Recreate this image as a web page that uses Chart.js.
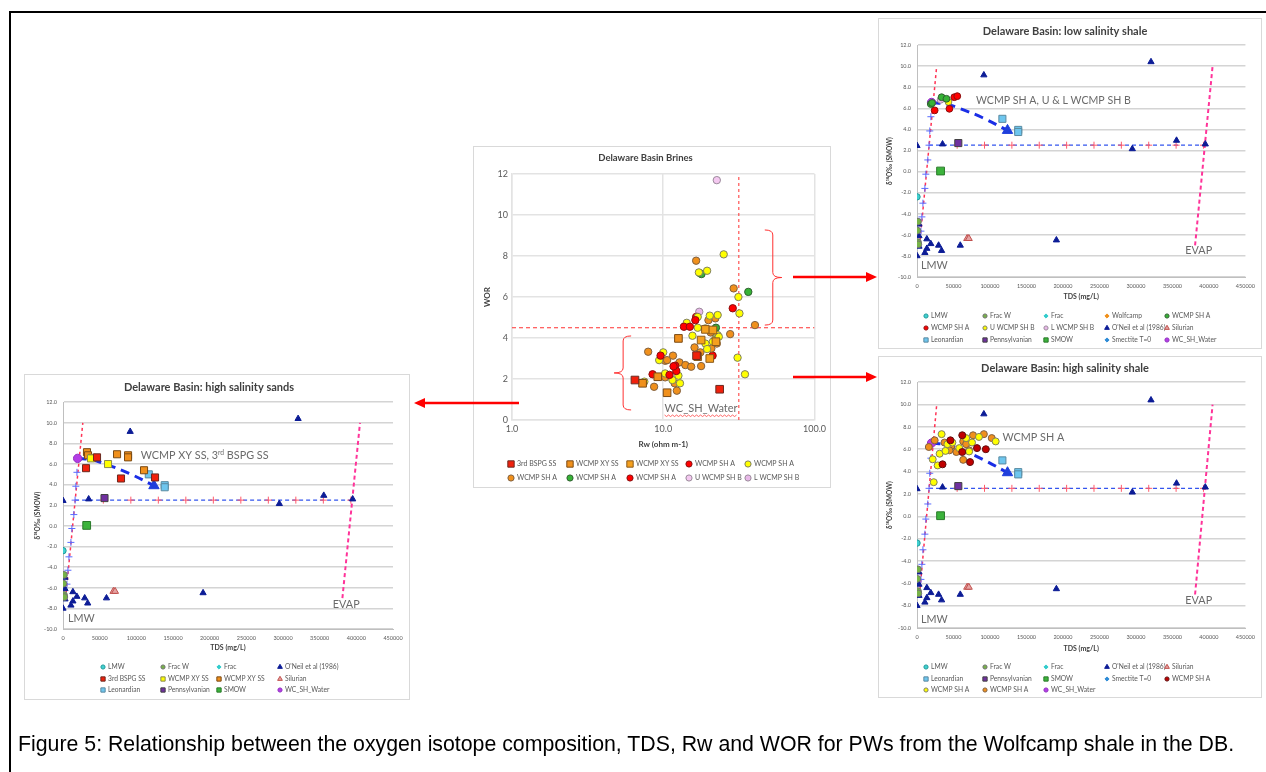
<!DOCTYPE html>
<html>
<head>
<meta charset="utf-8">
<script src="https://cdn.jsdelivr.net/npm/chart.js@4.4.0/dist/chart.umd.min.js"></script>
<style>
  body { margin: 0; width: 1266px; height: 772px; overflow: hidden; background: #fff; }
  .frame { position: absolute; left: 9px; top: 11px; width: 1400px; height: 900px; border: 2px solid #000; }
  .box { position: absolute; border: 1px solid #d9d9d9; background: #fff; }
  .box canvas { display: block; }
  #arrows { position: absolute; left: 0; top: 0; pointer-events: none; }
  .caption { position: absolute; left: 18px; top: 732px; font: 21.3px "Liberation Sans", Arial, sans-serif; color: #000; white-space: nowrap; }
</style>
</head>
<body>
<div class="frame"></div>
<div class="box" style="left:473px;top:146px"><canvas id="cBrines" width="356" height="340"></canvas></div>
<div class="box" style="left:878px;top:18px"><canvas id="cLowShale" width="382" height="329"></canvas></div>
<div class="box" style="left:878px;top:356px"><canvas id="cHighShale" width="382" height="340"></canvas></div>
<div class="box" style="left:24px;top:374px"><canvas id="cHighSands" width="384" height="324"></canvas></div>
<canvas id="arrows" width="1266" height="772"></canvas>
<div class="caption">Figure 5: Relationship between the oxygen isotope composition, TDS, Rw and WOR for PWs from the Wolfcamp shale in the DB.</div>

<script>
// ---------- Delaware Basin Brines: Rw (ohm m-1) vs WOR ----------
const rwTicks = [1, 10, 100];
const brBspgSS  = [[6.5,1.95],[16.6,3.14],[23.6,1.5]];
const brXySS1   = [[7.3,1.79],[9.2,2.11],[10.6,1.33],[12.6,3.98]];
const brXySS2   = [[16.9,3.09],[17.8,3.9],[19.0,4.42],[20.3,3.0],[22.3,3.82],[21.3,4.39]];
const brShARed1 = [[8.5,2.23],[9.6,3.14],[11.0,2.2],[12.0,2.65],[12.2,2.39],[11.7,2.62],[13.7,4.55],[15.0,4.55],[16.3,4.87]];
const brShAYel  = [[7.5,1.87],[9.4,2.92],[10.0,3.3],[10.3,2.27],[11.5,1.95],[12.6,2.16],[12.9,1.79],[14.3,4.74],[15.6,4.11],
                   [16.9,4.5],[16.9,5.03],[17.2,7.2],[19.5,7.28],[19.0,4.47],[19.0,3.73],[19.5,3.46],[20.3,5.09],[21.9,3.9],
                   [22.9,5.12],[22.9,4.14],[23.3,4.06],[25.1,8.08],[31.4,6.0],[31.9,5.2],[31.0,3.04],[34.7,2.23],[21.3,3.82]];
const brShAOra  = [[7.95,3.33],[8.7,1.62],[10.3,2.89],[10.6,2.92],[11.6,3.14],[10.3,2.08],[11.9,1.79],[12.3,1.43],[12.8,2.81],
                   [14.0,2.68],[15.3,2.6],[16.1,3.54],[17.6,3.3],[17.8,2.63],[16.5,7.77],[19.9,4.87],[20.6,4.27],[20.8,3.49],
                   [22.1,4.96],[22.2,3.95],[27.7,4.19],[29.2,6.42],[40.4,4.63],[22.6,3.73]];
const brShAGrn  = [[17.6,7.15],[17.9,7.12],[22.3,4.5],[36.5,6.25]];
const brShARed2 = [[16.5,5.03],[21.2,3.14],[28.8,5.45]];
const brUShB    = [[22.6,11.7]];
const brLShB    = [[17.3,5.28]];
const brWorCut  = [[1,4.5],[100,4.5]];
const brRwCut   = [[31.6,0],[31.6,12]];

// ---------- d18O vs TDS (mg/L), shared by the three isotope charts ----------
const tdsMax = 450000, tdsStep = 50000;
const oneil       = [[0,2.45],[35000,2.6],[91600,9.15],[320600,10.4],[295000,2.15],[355600,2.95],[395000,2.6],[0,-8.0],
                     [2700,-5.0],[2700,-6.1],[2700,-7.1],[10800,-7.7],[13500,-6.4],[13500,-7.3],[18900,-6.85],[29600,-7.0],
                     [33700,-7.5],[59300,-7.0],[191000,-6.5]];
const fracW       = [[1300,-4.75],[500,-5.6],[1300,-6.7],[1800,-6.9]];
const lmw         = [[0,-2.4]];
const silurian    = [[68700,-6.35],[71000,-6.35]];
const leonardian  = [[117000,5.0],[138700,3.95],[138700,3.75]];
const pennsylv    = [[56600,2.7]];
const smow        = [[32300,0.05]];
const wcShWater   = [[20000,6.55]];
const endMember   = [[124000,3.9]];
const mwlCrosses  = [[19000,5.2],[17500,3.85],[16500,2.5],[14800,1.1],[12100,-0.25],[10800,-1.6],[8100,-3.0],[6700,-4.3],[5400,-5.65]];
const evpCrosses  = [[55000,2.5],[92500,2.5],[130000,2.5],[167500,2.5],[205000,2.5],[242500,2.5],[280000,2.5],[317500,2.5],[355000,2.5],[392500,2.5]];
const mwlLine     = [[3500,-7],[27000,10]];
const evapLine    = [[381000,-7],[405000,10]];
const flatLine    = [[16500,2.5],[395000,2.5]];
const mixCurve    = [[20000,6.55],[40000,6.4],[60000,5.95],[90000,5.1],[124000,3.9]];

// low salinity shale
const lsShAGrn = [[18900,6.4],[20600,6.5],[33700,7.05],[40400,6.9]];
const lsShARed = [[24200,5.8],[44400,5.95],[51100,7.05],[55200,7.15]];
const lsUShB   = [[43100,6.6]];
const lsLShB   = [[32300,6.8]];

// high salinity shale
const hsShARed = [[35000,4.65],[45800,6.8],[62000,7.25],[62000,5.75],[72700,4.85],[82200,6.1],[94300,6.0]];
const hsShAYel = [[33700,7.35],[21500,5.1],[22900,3.05],[28300,4.55],[31000,5.6],[39000,5.85],[41700,6.45],[48500,6.6],
                  [57900,6.1],[67300,7.0],[75400,6.6],[84900,7.1],[107800,6.7],[71400,5.8]];
const hsShAOra = [[16200,6.2],[24200,6.8],[37700,6.6],[47100,6.3],[53900,5.75],[63300,6.7],[63300,5.05],[76800,7.25],
                  [91600,7.35],[102400,7.0],[67300,6.45],[71400,5.9],[44400,5.9]];

// high salinity sands
const ssBspg   = [[31400,5.6],[46400,6.65],[79100,4.6],[125500,4.7]];
const ssXyYel  = [[61400,6.0],[38200,6.55]];
const ssXyOra  = [[32700,7.15],[34100,6.85],[39600,6.6],[73700,6.95],[88700,6.85],[88700,6.65],[110500,5.4]];

// ---------- styles ----------
const look = {
  bspg:     ['3rd BSPG SS', 'rect', '#f0200c', '#6b2a20'],
  xy1:      ['WCMP XY SS', 'rect', '#f0901c', '#7a4a14'],
  xy2:      ['WCMP XY SS', 'rect', '#f5a01e', '#8a5a1c'],
  xyYel:    ['WCMP XY SS', 'rect', '#ffff00', '#8a8a50'],
  xyOra:    ['WCMP XY SS', 'rect', '#f0901c', '#7a4a14'],
  shRed:    ['WCMP SH A', 'circle', '#ff0000', '#8a1010'],
  shDkRed:  ['WCMP SH A', 'circle', '#c00000', '#601010'],
  shYel:    ['WCMP SH A', 'circle', '#ffff00', '#808060'],
  shOra:    ['WCMP SH A', 'circle', '#f0901c', '#806040'],
  shGrn:    ['WCMP SH A', 'circle', '#36b336', '#306030'],
  uShB:     ['U WCMP SH B', 'circle', '#f4c8f0', '#9a8a9a'],
  lShB:     ['L WCMP SH B', 'circle', '#e8b8e8', '#9a8a9a'],
  uShBYel:  ['U WCMP SH B', 'circle', '#ffff00', '#808060'],
  lmw:      ['LMW', 'circle', '#40d0d0', '#1f9a9a'],
  fracW:    ['Frac W', 'circle', '#77b347', '#707070'],
  frac:     ['Frac', 'rectRot', '#33cccc', '#33cccc'],
  wolfcamp: ['Wolfcamp', 'rectRot', '#f0901c', '#f0901c'],
  oneil:    ["O'Neil et al (1986)", 'triangle', '#0c1c96', '#0c1c96'],
  silurian: ['Silurian', 'triangle', '#e6a3a3', '#c0504d'],
  leon:     ['Leonardian', 'rect', '#6ec6ee', '#5a8aa0'],
  penn:     ['Pennsylvanian', 'rect', '#7030a0', '#404040'],
  smow:     ['SMOW', 'rect', '#3cb33c', '#2a7a2a'],
  smectite: ['Smectite T=0', 'rectRot', '#2e8bd6', '#2e8bd6'],
  wcsh:     ['WC_SH_Water', 'circle', '#b43ce6', '#9030c0']
};

function pts(a) { return a.map(p => ({ x: p[0], y: p[1] })); }

function marks(key, data, r) {
  const s = look[key];
  return {
    label: s[0], data: pts(data), pointStyle: s[1],
    backgroundColor: s[2], borderColor: s[3],
    pointBackgroundColor: s[2], pointBorderColor: s[3],
    pointRadius: r, pointBorderWidth: 1, showLine: false
  };
}

function line(data, color, width, dash, tension) {
  return {
    label: '', data: pts(data), showLine: true, borderColor: color, borderWidth: width,
    borderDash: dash, pointRadius: 0, tension: tension || 0, order: 5
  };
}

function crosses(data, color) {
  return {
    label: '', data: pts(data), pointStyle: 'cross', borderColor: color, pointBorderColor: color,
    pointRadius: 3.5, pointBorderWidth: 1, showLine: false, order: 4
  };
}

// legend in fixed columns like the Excel one
const excelLegend = {
  id: 'excelLegend',
  afterDraw(chart, args, o) {
    const ctx = chart.ctx;
    const items = chart.data.datasets.filter(d => d.label);
    ctx.save();
    ctx.textBaseline = 'middle';
    ctx.textAlign = 'left';
    items.forEach((d, i) => {
      const x = o.cols[i % o.cols.length];
      const y = o.rows[Math.floor(i / o.cols.length)];
      ctx.fillStyle = d.backgroundColor;
      ctx.strokeStyle = d.borderColor;
      ctx.lineWidth = 1;
      const r = d.pointStyle === 'rect' ? o.r * 1.45 : d.pointStyle === 'triangle' ? o.r * 1.3 : o.r;
      Chart.helpers.drawPoint(ctx, { pointStyle: d.pointStyle, radius: r, borderWidth: 1, rotation: 0 }, x, y);
      ctx.font = o.size + 'px Lato, sans-serif';
      ctx.fillStyle = '#595959';
      ctx.fillText(d.label, x + o.gap, y);
    });
    ctx.restore();
  }
};

// text labels, braces and the spell-check squiggle
const notes = {
  id: 'notes',
  afterDatasetsDraw(chart, args, o) {
    const { ctx, scales } = chart;
    ctx.save();
    (o.items || []).forEach(n => {
      let px = scales.x.getPixelForValue(n.x);
      const py = scales.y.getPixelForValue(n.y);
      const x0 = px;
      ctx.fillStyle = '#6a6a6a';
      ctx.textBaseline = 'middle';
      ctx.textAlign = 'left';
      n.parts.forEach(p => {
        ctx.font = (p.sup ? n.size * 0.62 : n.size) + 'px Lato, sans-serif';
        ctx.fillText(p.t, px, p.sup ? py - n.size * 0.28 : py);
        px += ctx.measureText(p.t).width;
      });
      if (n.squiggle) {
        ctx.strokeStyle = '#ff4040';
        ctx.lineWidth = 0.8;
        ctx.beginPath();
        const yy = py + n.size * 0.6;
        for (let x = x0, k = 0; x <= px; x += 2, k++) {
          const y = yy + (k % 2 ? 1 : -0.5);
          if (k === 0) ctx.moveTo(x, y); else ctx.lineTo(x, y);
        }
        ctx.stroke();
      }
    });
    (o.braces || []).forEach(b => {
      const xv = scales.x.getPixelForValue(b.x);
      const yt = scales.y.getPixelForValue(b.y1);
      const yb = scales.y.getPixelForValue(b.y0);
      const ym = (yt + yb) / 2;
      const d = b.dir;
      ctx.strokeStyle = '#ff3030';
      ctx.lineWidth = 1;
      ctx.beginPath();
      ctx.moveTo(xv - 8 * d, yt);
      ctx.quadraticCurveTo(xv, yt, xv, yt + 5);
      ctx.lineTo(xv, ym - 5);
      ctx.quadraticCurveTo(xv, ym, xv + 9 * d, ym);
      ctx.quadraticCurveTo(xv, ym, xv, ym + 5);
      ctx.lineTo(xv, yb - 5);
      ctx.quadraticCurveTo(xv, yb, xv - 8 * d, yb);
      ctx.stroke();
    });
    ctx.restore();
  }
};

const titleFont = size => ({ family: 'Lato', size: size, weight: 'bold' });

// ---------- chart 1: brines ----------
new Chart(document.getElementById('cBrines'), {
  type: 'scatter',
  data: {
    datasets: [
      marks('bspg', brBspgSS, 5.4),
      marks('xy1', brXySS1, 5.4),
      marks('xy2', brXySS2, 5.4),
      marks('shRed', brShARed1, 3.7),
      marks('shYel', brShAYel, 3.7),
      marks('shOra', brShAOra, 3.7),
      marks('shGrn', brShAGrn, 3.7),
      marks('shRed', brShARed2, 3.7),
      marks('uShB', brUShB, 3.7),
      marks('lShB', brLShB, 3.7),
      line(brWorCut, '#ff3030', 1, [4, 3]),
      line(brRwCut, '#ff3030', 1, [3, 3])
    ]
  },
  options: {
    responsive: false,
    animation: false,
    events: [],
    layout: { padding: { left: 0, right: 13, top: 0, bottom: 37 } },
    scales: {
      x: {
        type: 'logarithmic', min: 1, max: 100,
        afterBuildTicks(s) { s.ticks = rwTicks.map(v => ({ value: v, major: true })); },
        afterFit(s) { s.height = 30; },
        ticks: { callback: v => Number(v).toFixed(1), color: '#595959', font: { family: 'Lato', size: 9 }, padding: 4, maxRotation: 0 },
        grid: { color: '#e3e3e3', lineWidth: 1.5, drawTicks: false },
        border: { color: '#e3e3e3', width: 1.5 },
        title: { display: true, text: 'Rw (ohm m-1)', color: '#404040', font: titleFont(8), padding: { top: 0, bottom: 1.2 } }
      },
      y: {
        min: 0, max: 12,
        afterFit(s) { s.width = 38; },
        ticks: { stepSize: 2, color: '#595959', font: { family: 'Lato', size: 9 }, padding: 4 },
        grid: { color: '#e3e3e3', lineWidth: 1.5, drawTicks: false },
        border: { color: '#e3e3e3', width: 1.5 },
        title: { display: true, text: 'WOR', color: '#404040', font: titleFont(8), padding: { top: 8.2, bottom: 0 } }
      }
    },
    plugins: {
      legend: { display: false },
      tooltip: { enabled: false },
      title: { display: true, text: 'Delaware Basin Brines', color: '#404040', font: titleFont(9.5), padding: { top: 5.3, bottom: 10.3 } },
      excelLegend: { cols: [37, 96, 156, 215, 274], rows: [317, 331], r: 3.1, gap: 6, size: 7 },
      notes: {
        items: [{ x: 10.2, y: 0.54, size: 11, squiggle: true, parts: [{ t: 'WC_SH_Water' }] }],
        braces: [{ x: 53, y0: 4.63, y1: 9.27, dir: 1 }, { x: 5.43, y0: 0.49, y1: 4.10, dir: -1 }]
      }
    }
  },
  plugins: [excelLegend, notes]
});

// ---------- isotope charts ----------
function commonIsoSets() {
  const em = marks('oneil', endMember, 6);
  Object.assign(em, { label: '', backgroundColor: '#1f3fdc', borderColor: '#1f3fdc', pointBackgroundColor: '#1f3fdc', pointBorderColor: '#1f3fdc' });
  return [
    em,
    crosses(mwlCrosses, '#5a6cff'),
    crosses(evpCrosses, '#ff5a6a'),
    line(mixCurve, '#1a2ee6', 3, [9, 6], 0.35),
    line(flatLine, '#3355ee', 1.2, [4, 3]),
    line(mwlLine, '#ff3355', 1.5, [3, 3]),
    line(evapLine, '#ff3399', 2, [4, 3])
  ];
}

function isoChart(id, f, title, legendSets, legendOpts, noteItems) {
  new Chart(document.getElementById(id), {
    type: 'scatter',
    data: { datasets: legendSets.concat(commonIsoSets()) },
    options: {
      responsive: false,
      animation: false,
      events: [],
      layout: { padding: { left: 0, right: f.padR, top: 0, bottom: f.padB } },
      scales: {
        x: {
          min: 0, max: tdsMax,
          afterFit(s) { s.height = f.xH; },
          ticks: { stepSize: tdsStep, callback: v => String(v), color: '#595959', font: { family: 'Lato', size: 5.5 }, padding: 6, maxRotation: 0, autoSkip: false },
          grid: { display: false, drawTicks: false },
          border: { color: '#bfbfbf', width: 1 },
          title: { display: true, text: 'TDS (mg/L)', color: '#404040', font: titleFont(7), padding: { top: 0, bottom: 0.8 } }
        },
        y: {
          min: -10, max: 12,
          afterFit(s) { s.width = f.yW; },
          ticks: { stepSize: 2, callback: v => Number(v).toFixed(1), color: '#595959', font: { family: 'Lato', size: 5.5 }, padding: 6 },
          grid: { color: '#d4d4d4', lineWidth: 1.5, drawTicks: false },
          border: { color: '#bfbfbf', width: 1 },
          title: { display: true, text: 'δ¹⁸O‰ (SMOW)', color: '#404040', font: titleFont(6.5), padding: { top: f.yTitle, bottom: 0 } }
        }
      },
      plugins: {
        legend: { display: false },
        tooltip: { enabled: false },
        title: { display: true, text: title, color: '#404040', font: titleFont(11), padding: { top: f.tTop, bottom: f.tBot } },
        excelLegend: Object.assign({ r: 2.1, gap: 5, size: 6.7 }, legendOpts),
        notes: { items: noteItems }
      }
    },
    plugins: [excelLegend, notes]
  });
}

isoChart('cLowShale',
  { padR: 10, padB: 46, xH: 25, yW: 38, yTitle: 7.1, tTop: 5.4, tBot: 7.4 },
  'Delaware Basin: low salinity shale',
  [
    marks('lmw', lmw, 3.2), marks('fracW', fracW, 3.4), marks('frac', [], 3), marks('wolfcamp', [], 3),
    marks('shGrn', lsShAGrn, 3.4), marks('shRed', lsShARed, 3.4), marks('uShBYel', lsUShB, 3.4), marks('lShB', lsLShB, 3.4),
    marks('oneil', oneil, 3.6), marks('silurian', silurian, 4), marks('leon', leonardian, 5), marks('penn', pennsylv, 5),
    marks('smow', smow, 5.5), marks('smectite', [], 3), marks('wcsh', wcShWater, 4.2)
  ],
  { cols: [47, 106, 167, 228, 288], rows: [297, 309, 321] },
  [
    { x: 80800, y: 6.72, size: 10.6, parts: [{ t: 'WCMP SH A, U & L WCMP SH B' }] },
    { x: 5400, y: -8.9, size: 10.8, parts: [{ t: 'LMW' }] },
    { x: 367700, y: -7.45, size: 10.8, parts: [{ t: 'EVAP' }] }
  ]);

isoChart('cHighShale',
  { padR: 10, padB: 43, xH: 26, yW: 38, yTitle: 7.1, tTop: 4.4, tBot: 7.6 },
  'Delaware Basin: high salinity shale',
  [
    marks('lmw', lmw, 3.2), marks('fracW', fracW, 3.4), marks('frac', [], 3), marks('oneil', oneil, 3.6),
    marks('silurian', silurian, 4), marks('leon', leonardian, 5), marks('penn', pennsylv, 5), marks('smow', smow, 5.5),
    marks('smectite', [], 3), marks('shDkRed', hsShARed, 3.5), marks('shYel', hsShAYel, 3.5), marks('shOra', hsShAOra, 3.5),
    marks('wcsh', wcShWater, 4.2)
  ],
  { cols: [47, 106, 167, 228, 288], rows: [310, 322, 333] },
  [
    { x: 117200, y: 7.08, size: 10.8, parts: [{ t: 'WCMP SH A' }] },
    { x: 5400, y: -9.2, size: 10.8, parts: [{ t: 'LMW' }] },
    { x: 367700, y: -7.5, size: 10.8, parts: [{ t: 'EVAP' }] }
  ]);

isoChart('cHighSands',
  { padR: 16, padB: 46, xH: 24, yW: 38, yTitle: 9, tTop: 5.4, tBot: 8.6 },
  'Delaware Basin: high salinity sands',
  [
    marks('lmw', lmw, 3.2), marks('fracW', fracW, 3.4), marks('frac', [], 3), marks('oneil', oneil, 3.6),
    marks('bspg', ssBspg, 5), marks('xyYel', ssXyYel, 5), marks('xyOra', ssXyOra, 5), marks('silurian', silurian, 4),
    marks('leon', leonardian, 5), marks('penn', pennsylv, 5), marks('smow', smow, 5.5), marks('wcsh', wcShWater, 4.2)
  ],
  { cols: [78, 138, 194, 255], rows: [292, 304, 315] },
  [
    { x: 106000, y: 6.8, size: 10.8, parts: [{ t: 'WCMP XY SS, 3' }, { t: 'rd', sup: true }, { t: ' BSPG SS' }] },
    { x: 6800, y: -9.0, size: 10.8, parts: [{ t: 'LMW' }] },
    { x: 368000, y: -7.6, size: 10.8, parts: [{ t: 'EVAP' }] }
  ]);

// ---------- red arrows between the panels ----------
const ov = document.getElementById('arrows').getContext('2d');
function arrow(x0, y, x1) {
  const d = Math.sign(x1 - x0);
  ov.strokeStyle = '#ff0000';
  ov.fillStyle = '#ff0000';
  ov.lineWidth = 2.5;
  ov.beginPath();
  ov.moveTo(x0, y);
  ov.lineTo(x1 - 10 * d, y);
  ov.stroke();
  ov.beginPath();
  ov.moveTo(x1, y);
  ov.lineTo(x1 - 11 * d, y - 5);
  ov.lineTo(x1 - 11 * d, y + 5);
  ov.closePath();
  ov.fill();
}
arrow(793, 277, 877);
arrow(793, 377, 877);
arrow(519, 403, 414);
</script>
</body>
</html>
